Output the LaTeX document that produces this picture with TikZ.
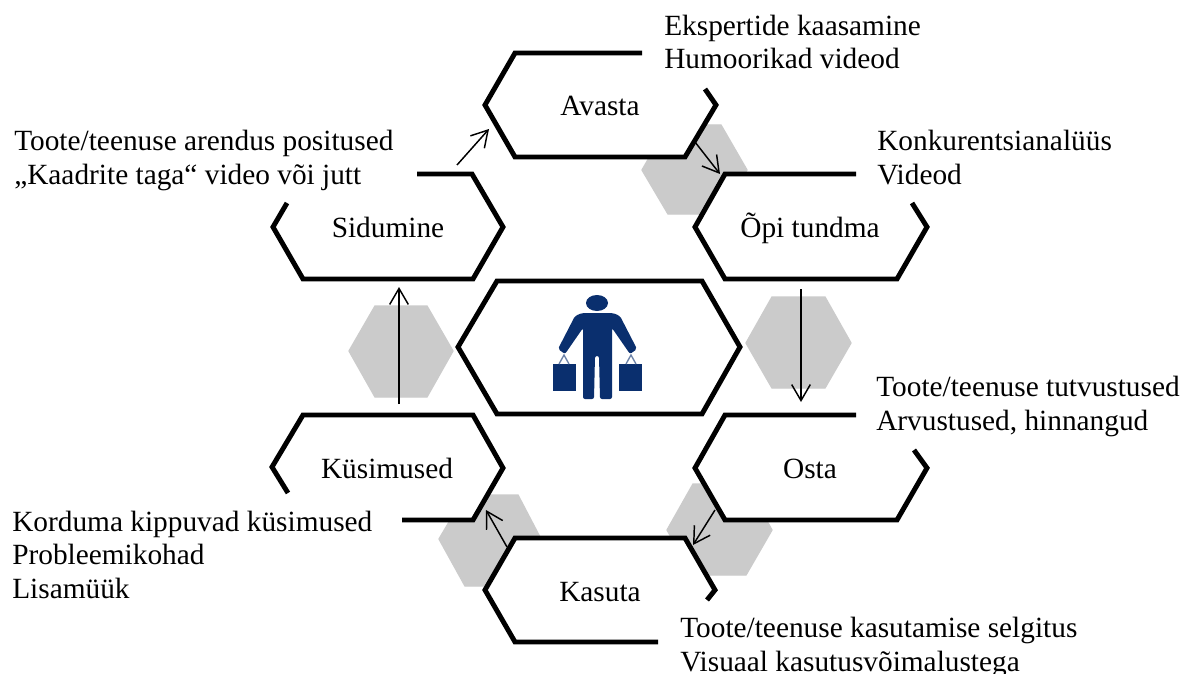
\documentclass[tikz,border=0pt]{standalone}
\usepackage{fontspec}
\setmainfont{Liberation Serif}
\usetikzlibrary{arrows.meta}
\definecolor{hexgray}{HTML}{CBCBCB}
\definecolor{figblue}{HTML}{0A2F6E}
\tikzset{
    hexline/.style={line width=3.7pt, fill=white, miter limit=10},
    hexgrey/.style={fill=hexgray, draw=hexgray, line width=1pt, line join=round},
    stepline/.style={line width=1.1pt, -{Straight Barb[length=12pt, width=14pt, line width=1.1pt]}},
    celltext/.style={font=\fontsize{22}{25}\selectfont, inner sep=0pt, anchor=base},
    sidetext/.style={font=\fontsize{22}{25}\selectfont, inner sep=0pt, align=left, anchor=base west},
}
\begin{document}
\begin{tikzpicture}[x=0.75pt, y=-0.75pt]
    \useasboundingbox (0,0) rectangle (1186,674);

    \fill[white] (0,0) rectangle (1186,674);
    \draw[hexgrey] (375,306) -- (427,306) -- (453,351) -- (427,397) -- (375,397) -- (349,351) -- cycle;
    \draw[hexgrey] (772,297) -- (825,297) -- (851,343) -- (825,388) -- (772,388) -- (746,343) -- cycle;
    \draw[hexgrey] (668,125) -- (721,125) -- (747,170) -- (721,214) -- (668,214) -- (642,170) -- cycle;
    \draw[hexgrey] (465,495) -- (518,495) -- (541,539) -- (518,586) -- (465,586) -- (439,539) -- cycle;
    \draw[hexgrey] (693,484) -- (746,484) -- (772,530) -- (746,575) -- (693,575) -- (667,530) -- cycle;

    \draw[hexline] (705,89) -- (716,105) -- (685,157) -- (515,157) -- (485,105) -- (515,53) -- (642,53);
    \draw[hexline] (912,203) -- (927,227) -- (897,279) -- (725,279) -- (695,227) -- (725,174) -- (856,174);
    \draw[hexline] (287,203) -- (273,227) -- (303,279) -- (473,279) -- (503,227) -- (472,174) -- (417,174);
    \draw[hexline] (288,493) -- (272,467) -- (303,415) -- (473,415) -- (503,468) -- (473,520) -- (402,520);
    \draw[hexline] (914,450) -- (927,468) -- (897,520) -- (725,520) -- (695,468) -- (725,415) -- (856,415);
    \draw[hexline] (707,600) -- (715,590) -- (685,538) -- (515,538) -- (485,590) -- (515,642) -- (658,642);
    \draw[hexline] (458,347) -- (497,281) -- (702,281) -- (740,347) -- (702,414) -- (497,414) -- cycle;

    \fill[figblue] (597,303) ellipse (11 and 8);
    \fill[figblue, rounded corners=1.5pt] (582,313) -- (613,313) -- (620,316) -- (637,349) -- (630,354) -- (612,328)
        -- (612,399) -- (600,399) -- (599,356) -- (595,356) -- (594,399) -- (583,399) -- (583,328)
        -- (565,354) -- (558,349) -- (575,316) -- cycle;
    \fill[figblue] (553,364) rectangle (576,391);
    \fill[figblue] (619,364) rectangle (642,391);
    \draw[figblue!60, line width=1pt] (559,364) -- (564,355) -- (569,364);
    \draw[figblue!60, line width=1pt] (626,364) -- (631,355) -- (636,364);

    \coordinate (sidumine out) at (457,165);
    \coordinate (avasta in) at (489,129);
    \coordinate (avasta out) at (695,142);
    \coordinate (opi in) at (720,174);
    \coordinate (opi out) at (801,289);
    \coordinate (osta in) at (801,402);
    \coordinate (osta out) at (715,510);
    \coordinate (kasuta in) at (693,545);
    \coordinate (kasuta out) at (507,547);
    \coordinate (kysimused in) at (486,510);
    \coordinate (kysimused out) at (399,404);
    \coordinate (sidumine in) at (399,287);
    \draw[stepline] (sidumine out) -- (avasta in);
    \draw[stepline] (avasta out) -- (opi in);
    \draw[stepline] (opi out) -- (osta in);
    \draw[stepline] (osta out) -- (kasuta in);
    \draw[stepline] (kasuta out) -- (kysimused in);
    \draw[stepline] (kysimused out) -- (sidumine in);

    \node[celltext] (avasta) at (600,116) {Avasta};
    \node[celltext] (opi) at (810,237) {Õpi tundma};
    \node[celltext] (osta) at (810,478) {Osta};
    \node[celltext] (kasuta) at (600,601) {Kasuta};
    \node[celltext] (kysimused) at (387,478) {Küsimused};
    \node[celltext] (sidumine) at (388,237) {Sidumine};

    \node[sidetext] (avasta text) at (664,69) {Ekspertide kaasamine\\Humoorikad videod};
    \node[sidetext] (opi text) at (877,184) {Konkurentsianalüüs\\Videod};
    \node[sidetext] (osta text) at (876,430) {Toote/teenuse tutvustused\\Arvustused, hinnangud};
    \node[sidetext] (kasuta text) at (680,671) {Toote/teenuse kasutamise selgitus\\Visuaal kasutusvõimalustega};
    \node[sidetext] (kysimused text) at (12,598) {Korduma kippuvad küsimused\\Probleemikohad\\Lisamüük};
    \node[sidetext] (sidumine text) at (14,184) {Toote/teenuse arendus positused\\„Kaadrite taga“ video või jutt};
\end{tikzpicture}
\end{document}
